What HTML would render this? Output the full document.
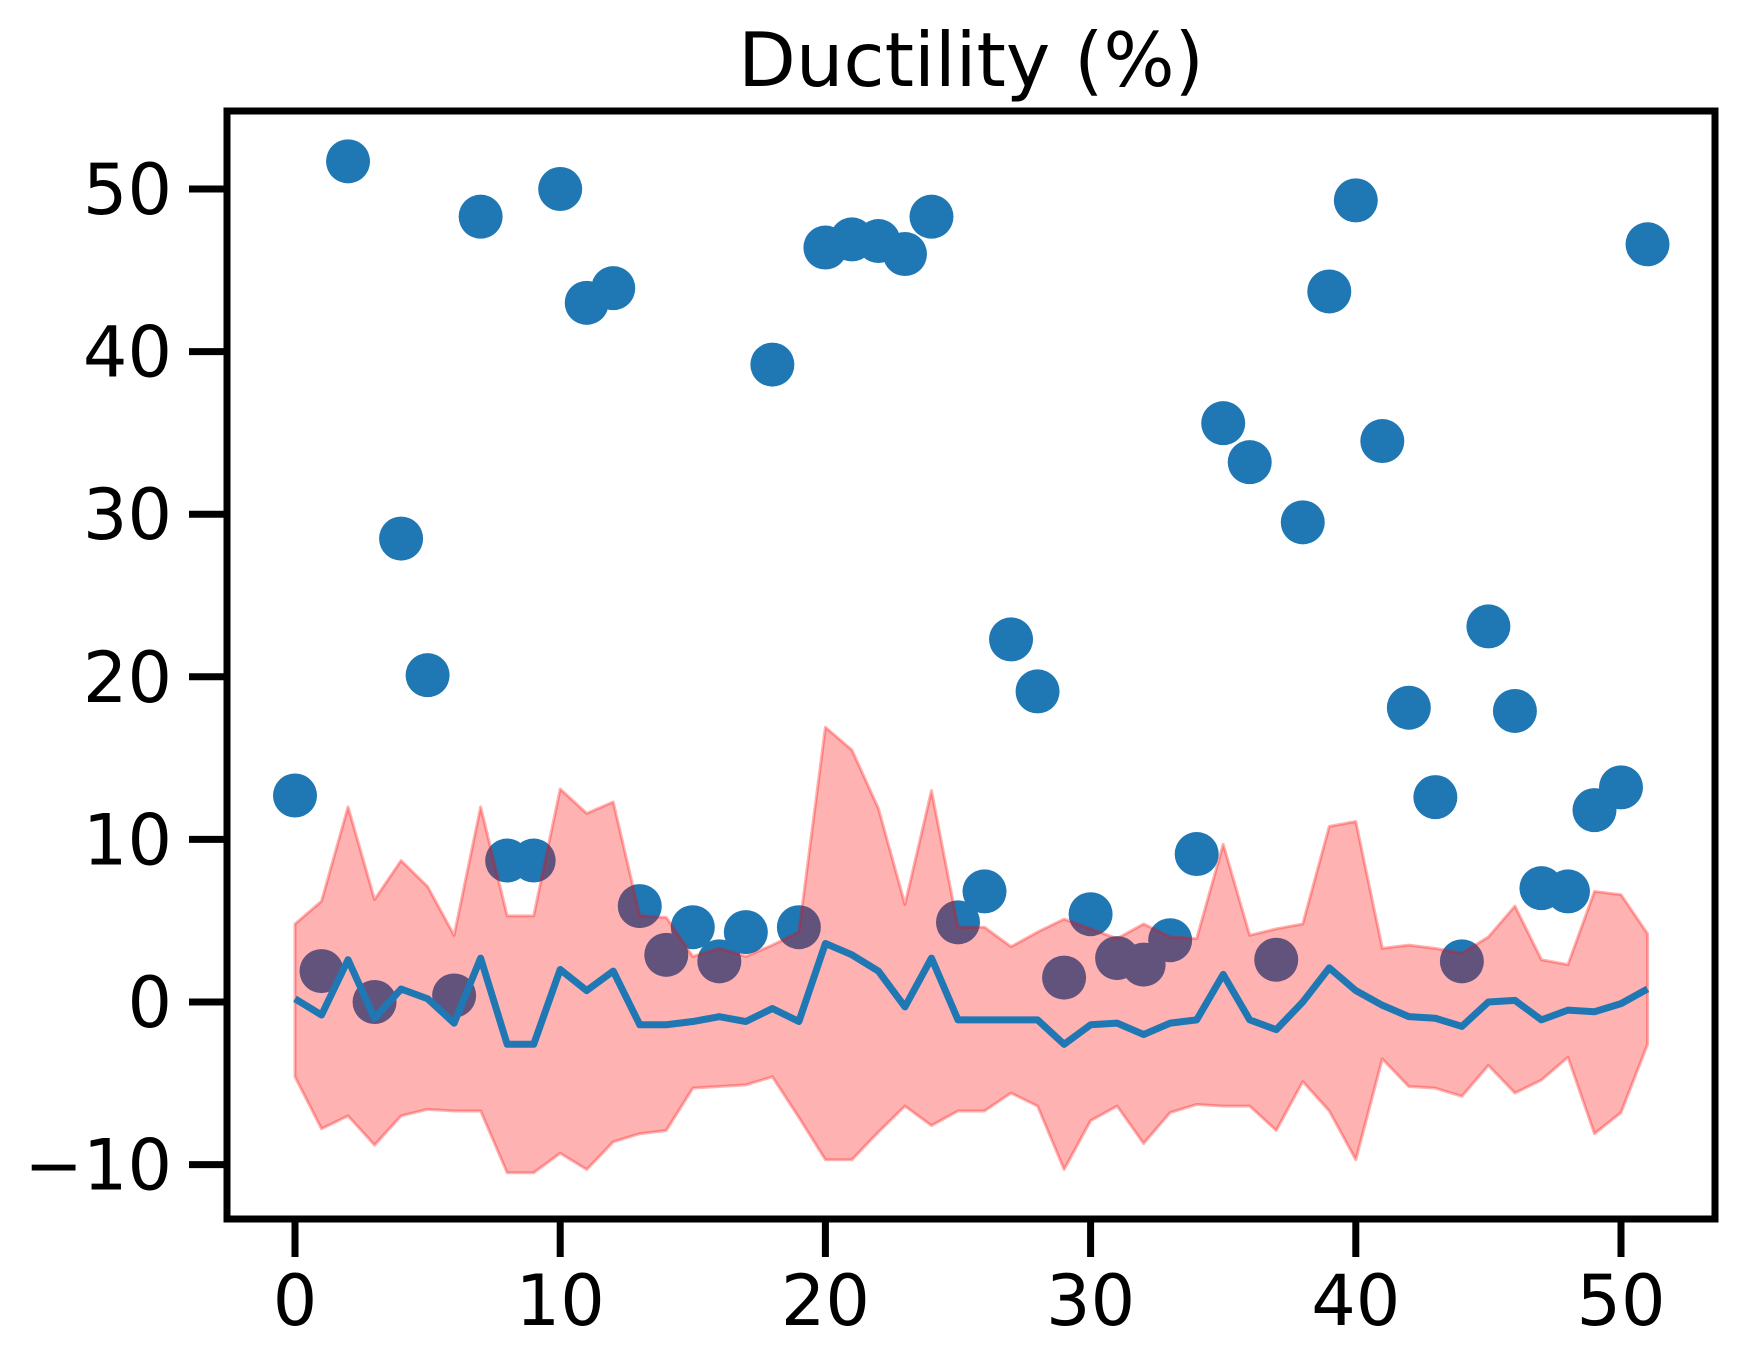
<!DOCTYPE html>
<html><head><meta charset="utf-8"><style>
html,body{margin:0;padding:0;background:#fff;}
svg{display:block;font-family:"DejaVu Sans","Liberation Sans",sans-serif;}
</style></head><body>
<svg id="chart" width="1745" height="1369" viewBox="0 0 1745 1369" xmlns="http://www.w3.org/2000/svg">
<rect width="1745" height="1369" fill="#fff"/>
<g id="dots"></g>
<g id="band"></g>
<g id="line"></g>
<g id="axes"></g>
<text x="971" y="86" font-size="75" text-anchor="middle" fill="#000">Ductility (%)</text>
</svg>
<script>
const observed = [12.7,1.9,51.7,0,28.5,20.1,0.4,48.3,8.7,8.7,50,43,43.9,5.9,2.9,4.6,2.5,4.3,39.2,4.6,46.4,46.9,46.8,46,48.3,4.9,6.8,22.3,19.1,1.5,5.4,2.7,2.3,3.8,9.1,35.6,33.2,2.6,29.5,43.7,49.3,34.5,18.1,12.6,2.5,23.1,17.9,7.0,6.8,11.8,13.2,46.6];
const meanPred = [0.2,-0.8,2.6,-1,0.8,0.2,-1.3,2.7,-2.6,-2.6,2,0.7,1.9,-1.4,-1.4,-1.2,-0.9,-1.2,-0.4,-1.2,3.6,2.9,1.9,-0.3,2.7,-1.1,-1.1,-1.1,-1.1,-2.6,-1.4,-1.3,-2,-1.3,-1.1,1.7,-1.1,-1.7,0,2.1,0.7,-0.2,-0.9,-1.0,-1.5,0,0.1,-1.1,-0.5,-0.6,-0.1,0.8];
const upperBound = [4.8,6.2,12,6.3,8.7,7.1,4.1,12,5.3,5.3,13.1,11.6,12.3,5.3,5.2,2.8,3.3,2.8,3.5,4.3,16.9,15.5,11.9,6,13,4.6,4.6,3.4,4.3,5.1,4.5,3.9,4.8,4.0,3.9,9.7,4.1,4.5,4.8,10.8,11.1,3.3,3.5,3.3,3.0,4.0,5.9,2.6,2.3,6.8,6.6,4.2];
const lowerBound = [-4.6,-7.8,-7,-8.8,-7,-6.6,-6.7,-6.7,-10.5,-10.5,-9.3,-10.3,-8.6,-8.1,-7.9,-5.3,-5.2,-5.1,-4.6,-7.1,-9.7,-9.7,-8,-6.4,-7.6,-6.7,-6.7,-5.6,-6.4,-10.3,-7.3,-6.4,-8.7,-6.8,-6.3,-6.4,-6.4,-7.9,-4.9,-6.7,-9.7,-3.5,-5.2,-5.3,-5.8,-3.9,-5.6,-4.8,-3.4,-8.1,-6.8,-2.6];
const xTicks = [0,10,20,30,40,50];
const yTicks = [-10,0,10,20,30,40,50];

const NS = "http://www.w3.org/2000/svg";
function X(v){ return 295 + v * (1621 - 295) / 50; }
function Y(v){ return 1002 - v * (1002 - 189) / 50; }
function mk(tag, attrs, parent){
  const e = document.createElementNS(NS, tag);
  for (const k in attrs) e.setAttribute(k, attrs[k]);
  parent.appendChild(e);
  return e;
}
const dots = document.getElementById('dots');
observed.forEach((v,i)=>{
  const c = mk('circle',{cx:X(i),cy:Y(v),r:22,fill:'#1f77b4'},dots);
  
  
});
const band = document.getElementById('band');
let d = upperBound.map((v,i)=>(i?'L':'M')+X(i)+','+Y(v)).join(' ');
for (let i = lowerBound.length-1; i >= 0; i--) d += ' L'+X(i)+','+Y(lowerBound[i]);
d += ' Z';
const bp = mk('path',{d:d,fill:'#ff0000','fill-opacity':0.3,stroke:'#ff0000','stroke-opacity':0.3,'stroke-width':3,'stroke-linejoin':'round'},band);


const line = document.getElementById('line');
const lp = mk('polyline',{points:meanPred.map((v,i)=>X(i)+','+Y(v)).join(' '),fill:'none',stroke:'#1f77b4','stroke-width':7,'stroke-linejoin':'round'},line);



const axes = document.getElementById('axes');
const frame = mk('rect',{x:227,y:111,width:1715-227,height:1219-111,fill:'none',stroke:'#000','stroke-width':7},axes);


xTicks.forEach(t=>{
  const l = mk('line',{x1:X(t),x2:X(t),y1:1219,y2:1257,stroke:'#000','stroke-width':7},axes);
  
  
  const tx = mk('text',{x:X(t),y:1325,'font-size':70,'text-anchor':'middle',fill:'#000'},axes);
  tx.textContent = t;
  
  
});
yTicks.forEach(t=>{
  const l = mk('line',{x1:189,x2:227,y1:Y(t),y2:Y(t),stroke:'#000','stroke-width':7},axes);
  
  
  const tx = mk('text',{x:172,y:Y(t)+25,'font-size':70,'text-anchor':'end',fill:'#000'},axes);
  tx.textContent = t < 0 ? '\u2212' + Math.abs(t) : t;
  
  
});
</script>
</body></html>
